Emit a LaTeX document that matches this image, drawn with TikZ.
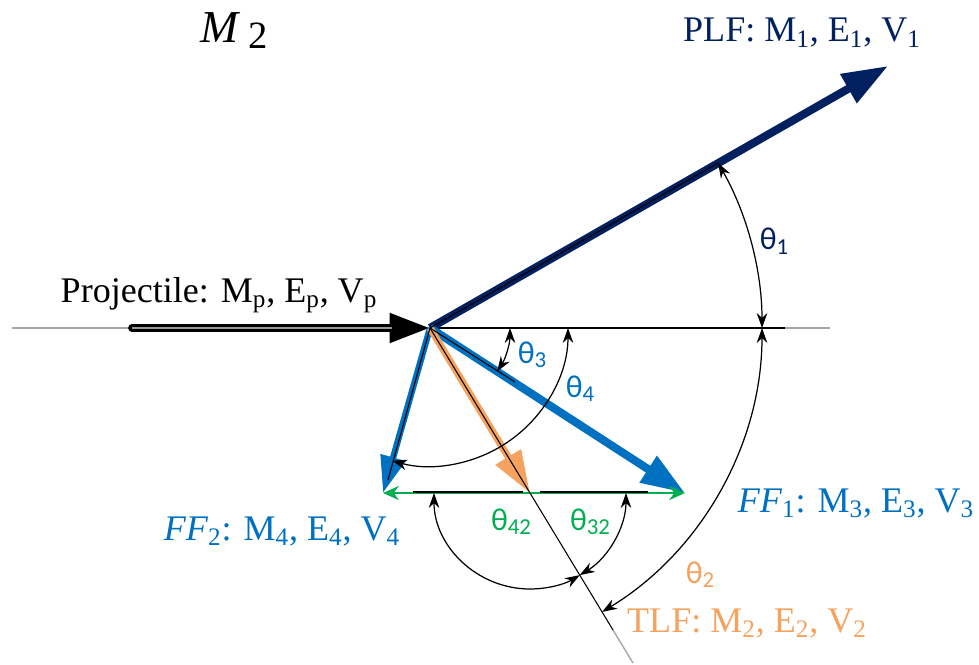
\documentclass[tikz,border=0pt]{standalone}
\usepackage{fontspec}
\setmainfont{Liberation Serif}
\newfontfamily\calfont{Carlito}
\usetikzlibrary{arrows.meta}
\definecolor{plfnavy}{RGB}{0,32,96}
\definecolor{ffblue}{RGB}{0,112,192}
\definecolor{tlforange}{RGB}{245,162,94}
\definecolor{relgreen}{RGB}{0,176,80}
\newcommand{\thlabel}[1]{{\calfont\fontsize{18}{20}\selectfont θ\raisebox{-2.5pt}{\fontsize{13}{14}\selectfont #1}}}

\begin{document}
\begin{tikzpicture}[x=0.02cm,y=0.02cm,
  vec/.style={line width=4.6pt,-{Triangle[length=26pt,width=18pt]}},
  guide/.style={black,line width=0.6pt},
  angarc/.style={black,line width=0.7pt,{Stealth[length=8.5pt,width=6pt]}-{Stealth[length=8.5pt,width=6pt]}},
  lbl/.style={font=\fontsize{20.5}{24}\selectfont,inner sep=0pt,anchor=base},
  thlbl/.style={inner sep=0pt,anchor=base}]
\useasboundingbox (0,0) rectangle (979,-665);

% points
\coordinate (O) at (430,-328);
\coordinate (lineL) at (12,-328);
\coordinate (lineR) at (830,-328);
\coordinate (lineRb) at (785,-328);
\coordinate (projstart) at (132,-328);
\coordinate (projhead) at (392,-328);
\coordinate (plftip) at (888,-66);
\coordinate (ff1tip) at (685,-493);
\coordinate (ff2tip) at (383,-493);
\coordinate (tlftip) at (530,-493);
\coordinate (tlfb) at (613,-630);
\coordinate (tlfend) at (633,-663);

% base line and projectile
\draw[black!35,line width=0.8pt] (lineL) -- (lineR);
\draw[guide] (O) -- (lineRb);
\draw[line width=4.4pt,line cap=round,-{Triangle[length=23pt,width=16pt]}] (projstart) -- (O);
\draw[black!40,line width=0.8pt] (projstart) -- (projhead);

% fragments
\draw[vec,plfnavy] (O) -- (plftip);
\draw[vec,ffblue,-{Triangle[length=25pt,width=17pt]}] (O) -- (ff1tip);
\draw[vec,ffblue,line width=3.6pt,-{Triangle[length=21pt,width=14pt]}] (O) -- (ff2tip);
\draw[vec,tlforange,line width=4pt,-{Triangle[length=24pt,width=16pt]}] (O) -- (tlftip);
\draw[relgreen,line width=1.4pt,{Stealth[length=9pt,width=8pt]}-{Stealth[length=9pt,width=8pt]}] (ff2tip) -- (ff1tip);

% reference lines
\draw[black!35,line width=0.8pt] (tlfb) -- (tlfend);
\draw[guide] (O) -- (tlfb);
\draw[guide] (O) -- (718,-163);
\draw[guide] (O) -- (515,-382);
\draw[guide] (O) -- (388,-480);
\draw[guide] (413,-492) -- (523,-492);
\draw[guide] (540,-492) -- (648,-492);

% angles
\draw[angarc] (O) ++(0:332) arc[start angle=0,end angle=29.78,radius=332];
\draw[angarc] (O) ++(0:332) arc[start angle=0,end angle=-58.78,radius=332];
\draw[angarc] (O) ++(0:80) arc[start angle=0,end angle=-32.9,radius=80];
\draw[angarc] (O) ++(0:138) arc[start angle=0,end angle=-105.9,radius=138];
\draw[angarc] (tlftip) ++(180:96) arc[start angle=180,end angle=301.22,radius=96];
\draw[angarc] (tlftip) ++(0:96) arc[start angle=0,end angle=-58.78,radius=96];

% labels
\node[lbl] (m2lbl) at (234,-43) {\fontsize{26}{28}\selectfont\textit{M}\,\raisebox{-3pt}{\fontsize{22}{24}\selectfont 2}};
\node[lbl] (projlbl) at (219,-302) {Projectile: M\textsubscript{p}, E\textsubscript{p}, V\textsubscript{p}};
\node[lbl,text=plfnavy] (plflbl) at (802,-42) {PLF: M\textsubscript{1}, E\textsubscript{1}, V\textsubscript{1}};
\node[lbl,text=ffblue] (ff1lbl) at (856,-512) {\textit{FF}\textsubscript{1}: M\textsubscript{3}, E\textsubscript{3}, V\textsubscript{3}};
\node[lbl,text=ffblue] (ff2lbl) at (282,-540) {\textit{FF}\textsubscript{2}: M\textsubscript{4}, E\textsubscript{4}, V\textsubscript{4}};
\node[lbl,text=tlforange] (tlflbl) at (747,-632) {TLF: M\textsubscript{2}, E\textsubscript{2}, V\textsubscript{2}};
\node[thlbl,text=plfnavy] (th1lbl) at (774,-250) {\thlabel{1}};
\node[thlbl,text=tlforange] (th2lbl) at (700,-583) {\thlabel{2}};
\node[thlbl,text=ffblue] (th3lbl) at (532,-363) {\thlabel{3}};
\node[thlbl,text=ffblue] (th4lbl) at (580,-397) {\thlabel{4}};
\node[thlbl,text=relgreen] (th42lbl) at (511,-530) {\thlabel{42}};
\node[thlbl,text=relgreen] (th32lbl) at (590,-530) {\thlabel{32}};
\end{tikzpicture}
\end{document}
